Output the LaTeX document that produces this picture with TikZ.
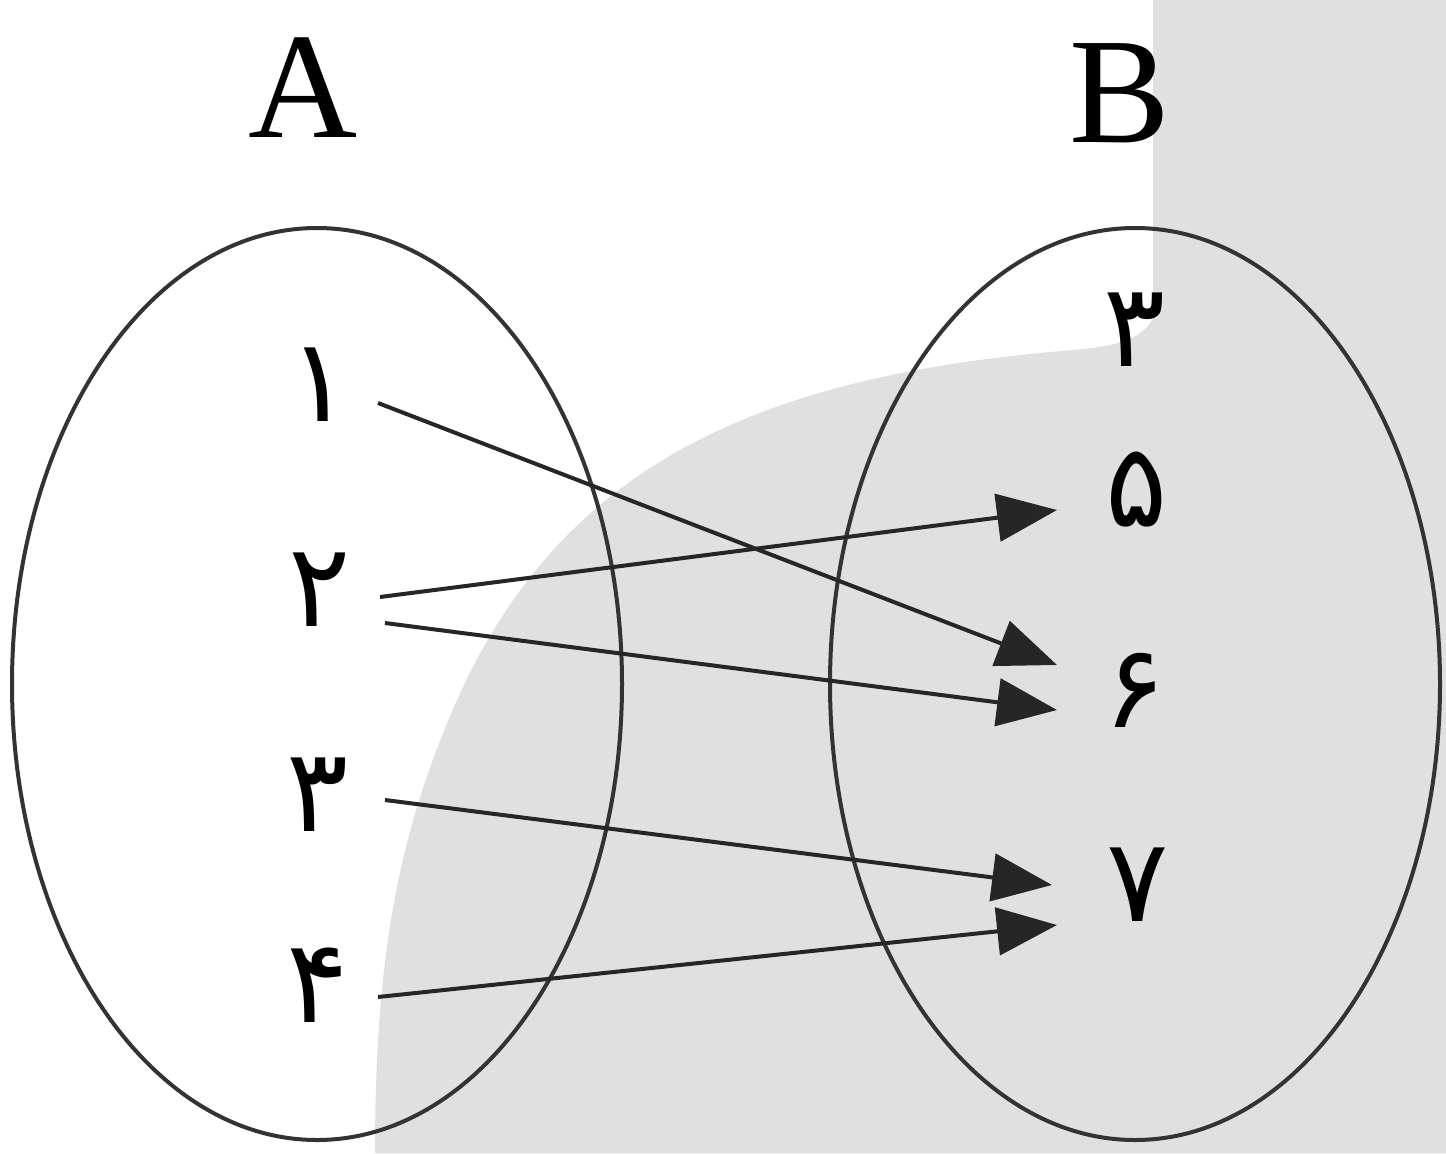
\documentclass[tikz,border=0pt]{standalone}
\usepackage{fontspec}
\setmainfont{Liberation Serif}
\newfontfamily\fadigits[Script=Arabic]{DejaVu Sans}
\usetikzlibrary{shapes.geometric,arrows.meta}
\begin{document}
\begin{tikzpicture}[x=0.02cm,y=-0.02cm,
  setline/.style={draw=black!80,line width=0.08cm},
  setellipse/.style={ellipse,setline,minimum width=610*0.02cm,minimum height=912*0.02cm,inner sep=0},
  title/.style={font=\fontsize{86}{90}\selectfont,inner sep=0},
  digit/.style={font=\fadigits\fontsize{66}{70}\selectfont,inner sep=0},
  maparrow/.style={draw=black!85,line width=0.08cm,-{Triangle[length=1.2cm,width=0.95cm]}}]
\useasboundingbox (0,0) rectangle (1446,1153);
% gray background region
\fill[black!12] (1153,0) -- (1153,318) .. controls (1140,345) and (1100,348) .. (1050,352)
  .. controls (750,380) and (560,470) .. (457,700)
  .. controls (400,830) and (375,950) .. (375,1153) -- (1446,1153) -- (1446,0) -- cycle;
% sets
\node[setellipse] (setA) at (317,684) {};
\node[setellipse] (setB) at (1135,684) {};
\node[title] (labA) at (303,88) {A};
\node[title] (labB) at (1120,93) {B};
% elements of A
\node[digit] (a1) at (320,385) {۱};
\node[digit] (a2) at (320,590) {۲};
\node[digit] (a3) at (318,795) {۳};
\node[digit] (a4) at (318,985) {۴};
% elements of B
\node[digit] (b3) at (1135,330) {۳};
\node[digit] (b5) at (1137,490) {۵};
\node[digit] (b6) at (1135,690) {۶};
\node[digit] (b7) at (1138,885) {۷};
% connector ends
\coordinate (s1) at (378,403);
\coordinate (s2a) at (380,597);
\coordinate (s2b) at (385,623);
\coordinate (s3) at (385,800);
\coordinate (s4) at (378,997);
\coordinate (e5) at (1057,510);
\coordinate (e6a) at (1057,665);
\coordinate (e6b) at (1057,710);
\coordinate (e7a) at (1052,885);
\coordinate (e7b) at (1057,925);
\draw[maparrow] (s1) -- (e6a);
\draw[maparrow] (s2a) -- (e5);
\draw[maparrow] (s2b) -- (e6b);
\draw[maparrow] (s3) -- (e7a);
\draw[maparrow] (s4) -- (e7b);
\end{tikzpicture}
\end{document}
